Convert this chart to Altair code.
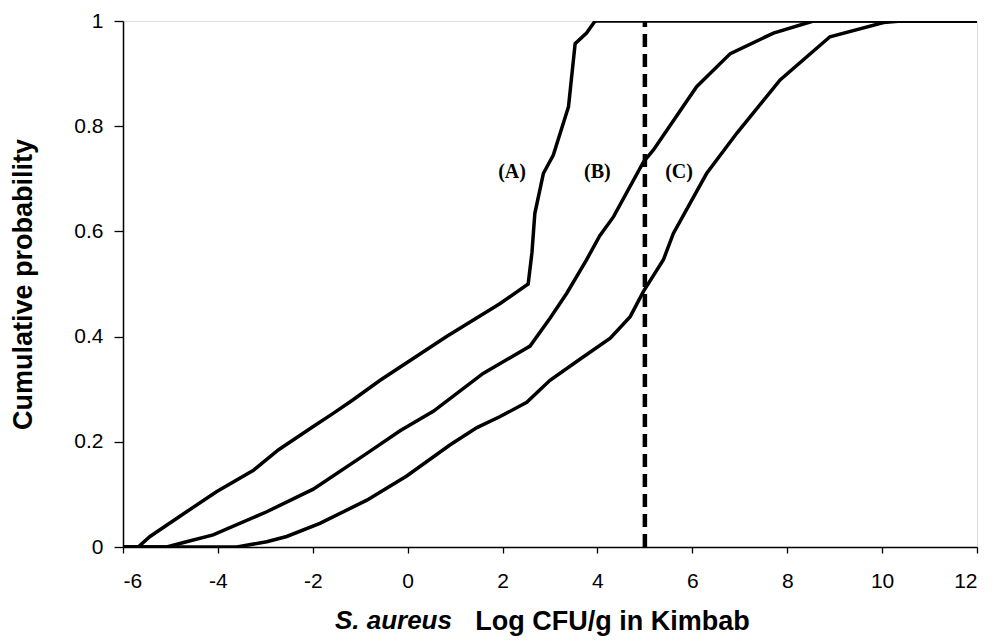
import altair as alt
import pandas as pd

# ---- data ----
a_x = [-6, -5.68, -5.43, -4.66, -4.03, -3.25, -2.72, -1.99, -1.57, -1.15, -0.58, 0.82, 1.95, 2.54, 2.62, 2.68, 2.86, 3.07, 3.39, 3.53, 3.77, 3.95, 12]
a_p = [0, 0, 0.02, 0.067, 0.105, 0.146, 0.185, 0.229, 0.254, 0.28, 0.317, 0.40, 0.463, 0.50, 0.56, 0.634, 0.71, 0.745, 0.837, 0.957, 0.977, 1.0, 1.0]

b_x = [-6, -5.08, -4.66, -4.10, -2.97, -1.99, -0.86, -0.16, 0.54, 1.59, 2.58, 3.0, 3.35, 3.77, 4.05, 4.34, 4.97, 5.18, 6.09, 6.8, 7.71, 8.55, 12]
b_p = [0, 0, 0.01, 0.023, 0.067, 0.11, 0.178, 0.221, 0.258, 0.33, 0.382, 0.435, 0.482, 0.546, 0.592, 0.628, 0.732, 0.755, 0.875, 0.938, 0.977, 1.0, 1.0]

c_x = [-6, -3.6, -2.97, -2.55, -1.85, -0.86, -0.02, 0.89, 1.46, 1.95, 2.51, 3.0, 3.6, 4.27, 4.69, 4.97, 5.39, 5.60, 6.30, 6.94, 7.85, 8.9, 10.03, 10.4, 12]
c_p = [0, 0, 0.01, 0.02, 0.045, 0.089, 0.135, 0.194, 0.227, 0.248, 0.275, 0.317, 0.355, 0.397, 0.438, 0.486, 0.546, 0.596, 0.71, 0.787, 0.888, 0.97, 0.997, 1.0, 1.0]

label_text = ["(A)", "(B)", "(C)"]
label_x = [2.2, 4.0, 5.72]
label_y = [0.713, 0.713, 0.713]

threshold_x = [5]

x_ticks = [-6, -4, -2, 0, 2, 4, 6, 8, 10, 12]
y_ticks = [0, 0.2, 0.4, 0.6, 0.8, 1]

# ---- build tables ----
rows = []
for name, xs, ps in (("A", a_x, a_p), ("B", b_x, b_p), ("C", c_x, c_p)):
    for i, (xv, pv) in enumerate(zip(xs, ps)):
        rows.append({"series": name, "order": i, "x": xv, "p": pv})
curves = pd.DataFrame(rows)
labels = pd.DataFrame({"text": label_text, "x": label_x, "y": label_y})
thr = pd.DataFrame({"x": threshold_x})

W, H = 854, 526
xscale = alt.Scale(domain=[-6, 12], nice=False, zero=False)
yscale = alt.Scale(domain=[0, 1], nice=False)

x_axis = alt.Axis(
    values=x_ticks, labelExpr="'' + datum.value", grid=False,
    title="Log CFU/g in Kimbab", titleFont="Liberation Sans", titleFontWeight="bold",
    titleFontSize=27, titleColor="black", titleX=489, titleY=82,
    titleAlign="center", titleBaseline="alphabetic",
    labelFont="Liberation Sans", labelFontSize=21, labelColor="black",
    labelPadding=17, tickSize=6, tickColor="black", tickWidth=1.3,
    domainColor="black", domainWidth=1.5,
)
y_axis = alt.Axis(
    values=y_ticks, labelExpr="'' + datum.value", grid=False,
    title="Cumulative probability", titleFont="Liberation Sans", titleFontWeight="bold",
    titleFontSize=27, titleColor="black", titleAngle=-90, titleX=-100, titleY=263,
    titleAlign="center", titleBaseline="middle",
    labelFont="Liberation Sans", labelFontSize=21, labelColor="black",
    labelPadding=11, tickSize=9, tickColor="black", tickWidth=1.3,
    domainColor="black", domainWidth=1.5,
)

lines = alt.Chart(curves).mark_line(color="black", strokeWidth=3.5, clip=True).encode(
    x=alt.X("x:Q", scale=xscale, axis=x_axis),
    y=alt.Y("p:Q", scale=yscale, axis=y_axis),
    detail="series:N",
    order="order:Q",
)

rule = alt.Chart(thr).mark_rule(color="black", strokeWidth=4.5, strokeDash=[13, 7]).encode(
    x=alt.X("x:Q", scale=xscale),
    y=alt.datum(0, scale=yscale),
    y2=alt.datum(1),
)

text = alt.Chart(labels).mark_text(
    font="Liberation Serif", fontWeight="bold", fontSize=20, color="black",
    align="center", baseline="middle",
).encode(
    x=alt.X("x:Q", scale=xscale),
    y=alt.Y("y:Q", scale=yscale),
    text="text:N",
)

species = alt.Chart(pd.DataFrame({"t": ["S. aureus"], "x": [-0.30]})).mark_text(
    font="Liberation Sans", fontWeight="bold", fontStyle="italic", fontSize=26,
    color="black", align="center", baseline="alphabetic",
).encode(
    x=alt.X("x:Q", scale=xscale),
    y=alt.value(H + 82),
    text="t:N",
)

chart = alt.layer(lines, rule, text, species).properties(
    width=W, height=H,
    autosize=alt.AutoSizeParams(type="none"),
    padding={"left": 115, "top": 13, "right": 10, "bottom": 95},
).configure_view(
    stroke="#8a8a8a", strokeWidth=1.5,
).configure(background="white")

chart.save("out.html", embed_options={"renderer": "svg", "actions": False})
